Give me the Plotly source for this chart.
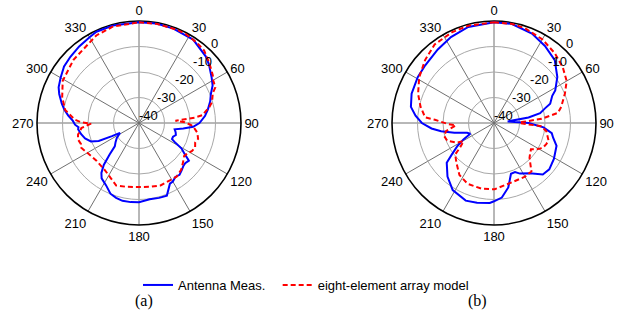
import plotly.graph_objects as go

# ---------------- data (dB vs angle, degrees) ----------------
a_meas_theta = [0, 10, 20, 33, 45, 50, 58, 63, 68, 73, 79, 84, 90, 94, 97, 100, 104, 108, 112, 116, 118,
                121, 124, 127, 131, 134, 138, 142, 146, 150, 153, 159, 165, 172, 180, 186, 192, 197, 202,
                208, 214, 217, 220, 223, 226, 231, 236, 242.6, 244, 246, 249, 254, 259, 264, 266, 268.5,
                272, 276, 280, 284, 290, 294, 300, 307, 314, 322, 330, 335, 345, 360]
a_meas_db = [-0.5, -0.4, -0.6, -1.0, -3.0, -4.2, -6.4, -7.6, -9.6, -10.8, -12.5, -14.0, -16.3, -18.7, -22.5,
             -25.8, -25.2, -24.8, -25.6, -25.6, -24.2, -20.5, -18.5, -15.5, -16.0, -15.8, -15.0, -14.2, -14.5,
             -13.5, -13.3, -9.5, -9.6, -9.8, -8.9, -8.8, -8.8, -9.3, -10.1, -12.4, -13.8, -15.5, -18.5,
             -23.1, -26.8, -28.2, -29.5, -31.6, -28.2, -22.7, -19.8, -18.0, -16.9, -16.0, -16.2, -14.9,
             -14.0, -12.1, -10.3, -8.8, -6.7, -5.5, -4.5, -3.2, -2.6, -1.9, -1.2, -0.5, -0.4, -0.5]

a_model_theta = [0, 10, 22, 28, 36, 42, 50, 57, 60, 65, 68, 74, 77, 83, 84.5, 86.5, 89, 92.5, 96, 99.5, 105,
                 109, 113.5, 117.7, 122, 126, 132, 138, 145, 150, 155, 161, 170, 179, 191, 200, 206.6, 216,
                 228, 240, 247, 250, 255, 259.5, 261, 265, 269.2, 270.6, 273, 280, 288.7, 299, 314, 334,
                 345, 360]
a_model_db = [-0.5, -0.5, -0.5, -0.6, -1.2, -1.8, -3.9, -5.5, -6.4, -7.0, -8.8, -10.2, -11.6, -15.0, -18.0,
              -25.7, -22.0, -19.4, -18.0, -16.8, -16.0, -16.7, -16.0, -16.5, -17.5, -18.1, -16.8, -15.3,
              -14.3, -14.4, -14.4, -14.1, -14.6, -14.9, -14.5, -13.9, -15.6, -17.2, -17.7, -16.6, -15.3,
              -15.8, -15.2, -15.7, -16.4, -17.3, -21.2, -17.4, -14.8, -10.6, -8.2, -5.8, -4.3, -1.8,
              -0.8, -0.5]

b_meas_theta = [0, 10, 23, 33.5, 44, 54, 62, 65, 71, 74, 78, 81, 83.5, 90, 95, 100, 104, 110, 121, 130,
                136.5, 144.5, 152.8, 156.8, 161.5, 167.5, 174, 180, 183, 192, 200, 211.6, 221, 230,
                233.3, 238, 241.7, 245.6, 250, 256.3, 261.2, 265, 270, 275.3, 281, 289.6, 301, 310,
                322.6, 333.4, 345, 360]
b_meas_db = [-0.5, -0.5, -1.9, -3.8, -5.7, -9.3, -12.8, -14.8, -16.7, -19.2, -21.5, -26.3, -34.6, -26.4,
             -20.5, -17.0, -16.1, -13.9, -12.6, -11.7, -12.2, -15.8, -17.7, -19.1, -19.0, -14.1, -10.6,
             -9.3, -8.6, -8.0, -7.6, -9.1, -12.2, -15.8, -19.4, -23.2, -26.4, -29.8, -28.8, -24.0,
             -19.0, -15.4, -11.7, -9.1, -6.8, -5.7, -5.1, -4.8, -3.7, -2.3, -1.0, -0.5]

b_model_theta = [0, 10, 18, 30, 41, 51, 60, 67.5, 76.5, 81, 85, 88, 90, 94, 99, 108, 112, 117, 122, 125.5,
                 130, 134.4, 142.3, 150, 163.4, 179.4, 191, 203.4, 213.6, 223.2, 231, 234, 239.3, 242,
                 249, 255.3, 260.3, 266.5, 268.8, 273.1, 274.7, 282.5, 291, 301.5, 312.4, 322.9, 335,
                 345, 360]
b_model_db = [-0.5, -0.5, -0.9, -2.1, -3.7, -5.3, -7.1, -9.9, -12.9, -14.6, -21.3, -29.0, -30.0, -21.3,
              -19.2, -17.5, -17.9, -18.5, -20.5, -22.2, -21.5, -20.5, -16.0, -15.7, -15.7, -14.0, -13.8,
              -14.0, -15.5, -18.5, -20.4, -23.5, -26.1, -23.6, -20.4, -19.8, -20.9, -25.0, -21.9,
              -16.8, -12.9, -10.5, -8.1, -5.6, -3.4, -1.4, -0.8, -0.5, -0.5]

angle_ticks = [0, 30, 60, 90, 120, 150, 180, 210, 240, 270, 300, 330]
angle_labels = [str(v) for v in angle_ticks]
radial_ticks = [-40, -30, -20, -10, 0]
radial_labels = [str(v) for v in radial_ticks]
radial_label_angle = 45

series_names = ["Antenna Meas.", "eight-element array model"]
panel_labels = ["(a)", "(b)"]

# ---------------- styles ----------------
BLUE = "#0000FF"
RED = "#FF0000"
FONT = "Liberation Sans, Arial, sans-serif"
SERIF = "Liberation Serif, Times New Roman, serif"
LEGEND_PAD = "\u00a0\u00a0"   # a little extra room between the two legend entries

W, H = 621, 326

fig = go.Figure()

panels = [
    ("polar", a_meas_theta, a_meas_db, a_model_theta, a_model_db),
    ("polar2", b_meas_theta, b_meas_db, b_model_theta, b_model_db),
]

for i, (sp, mt, md, st, sd) in enumerate(panels):
    fig.add_trace(go.Scatterpolar(
        theta=mt, r=md, mode="lines", subplot=sp, name=series_names[0] + LEGEND_PAD,
        line=dict(color=BLUE, width=2), showlegend=(i == 0), hoverinfo="skip"))
    fig.add_trace(go.Scatterpolar(
        theta=st, r=sd, mode="lines", subplot=sp, name=series_names[1],
        line=dict(color=RED, width=2, dash="5px,3px"), showlegend=(i == 0), hoverinfo="skip"))
    fig.add_trace(go.Scatterpolar(
        theta=[radial_label_angle] * len(radial_ticks), r=radial_ticks, mode="text",
        text=radial_labels, textposition="top right", subplot=sp, showlegend=False,
        textfont=dict(family=FONT, size=13, color="black"), hoverinfo="skip"))

polar_common = dict(
    bgcolor="white",
    angularaxis=dict(
        rotation=90, direction="clockwise", tickmode="array",
        tickvals=angle_ticks, ticktext=angle_labels, ticks="",
        showline=True, linecolor="black", linewidth=1.6,
        gridcolor="#707070", gridwidth=0.8, layer="below traces",
        tickfont=dict(family=FONT, size=13, color="black"),
    ),
    radialaxis=dict(
        range=[-40, 0], tickmode="array", tickvals=radial_ticks,
        showticklabels=False, ticks="", showline=False,
        gridcolor="#a8a8a8", gridwidth=0.8, layer="below traces",
    ),
)

# polar centres (139, 123) and (494, 123), radius ~102 px
fig.update_layout(
    width=W, height=H,
    margin=dict(l=0, r=0, t=0, b=0),
    paper_bgcolor="white",
    font=dict(family=FONT, size=13, color="black"),
    polar=dict(domain=dict(x=[37 / W, 241 / W], y=[1 - 225 / H, 1 - 21 / H]), **polar_common),
    polar2=dict(domain=dict(x=[392 / W, 596 / W], y=[1 - 225 / H, 1 - 21 / H]), **polar_common),
    legend=dict(orientation="h", x=138 / W, xanchor="left", y=1 - 285 / H, yanchor="middle",
                font=dict(family=FONT, size=13, color="black"), bgcolor="rgba(0,0,0,0)"),
    annotations=[
        dict(text=panel_labels[0], x=133 / W, y=1 - 312 / H, xref="paper", yref="paper",
             showarrow=False, font=dict(family=SERIF, size=16)),
        dict(text=panel_labels[1], x=489 / W, y=1 - 312 / H, xref="paper", yref="paper",
             showarrow=False, font=dict(family=SERIF, size=16)),
    ],
)

# the default page body has an 8px margin; remove it so the figure fills the window
fig.write_html("out.html", config={"displayModeBar": False},
               post_script="document.body.style.margin='0';")
